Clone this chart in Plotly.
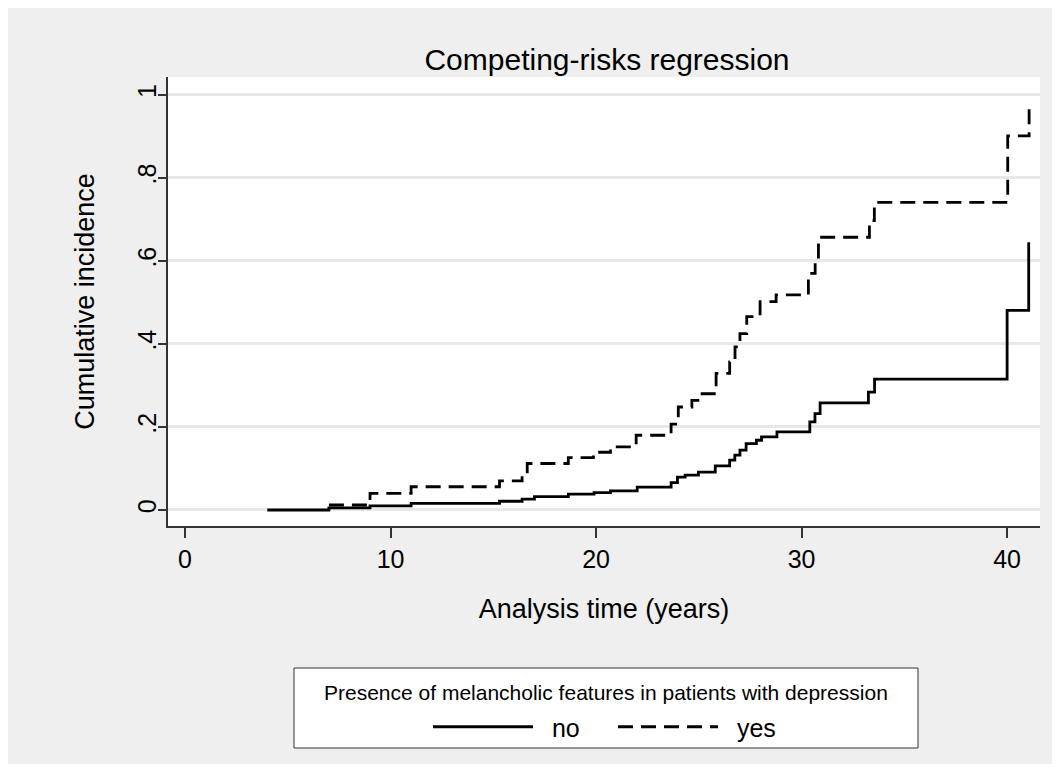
import plotly.graph_objects as go

# ---- data ----
no_time = [4, 7, 9, 11, 15.3, 16.4, 17.0, 18.65, 19.9, 20.7, 22.0, 23.65, 23.96, 24.33,
           24.98, 25.8, 26.5, 26.75, 27.0, 27.3, 27.8, 28.05, 28.8, 30.4, 30.65, 30.9,
           33.25, 33.55, 40.0, 41.05]
no_ci = [0.0, 0.005, 0.010, 0.016, 0.021, 0.026, 0.032, 0.038, 0.042, 0.046, 0.055, 0.066,
         0.079, 0.084, 0.091, 0.106, 0.120, 0.132, 0.144, 0.160, 0.168, 0.176, 0.188, 0.212,
         0.232, 0.258, 0.284, 0.315, 0.481, 0.645]

yes_time = [7, 9, 11, 15.3, 16.4, 16.65, 18.65, 19.87, 20.7, 21.95, 23.65, 24.0, 24.66,
            25.06, 25.84, 26.5, 26.76, 27.0, 27.33, 27.98, 28.76, 30.33, 30.66, 30.82,
            33.3, 33.54, 40.03, 41.07]
yes_ci = [0.012, 0.040, 0.056, 0.070, 0.088, 0.112, 0.126, 0.139, 0.152, 0.180, 0.207,
          0.248, 0.264, 0.280, 0.329, 0.357, 0.393, 0.425, 0.466, 0.502, 0.518, 0.570,
          0.600, 0.657, 0.697, 0.741, 0.901, 0.974]

x_ticks = [0, 10, 20, 30, 40]
y_ticks = [0, 0.2, 0.4, 0.6, 0.8, 1.0]
y_ticklabels = ["0", ".2", ".4", ".6", ".8", "1"]

series_names = ["no", "yes"]
legend_title = "Presence of melancholic features in patients with depression"

FONT = "Liberation Sans, Arial, Helvetica, sans-serif"
NB = "\u00a0"

# figure geometry (px) used to place the legend frame in paper coordinates
W, H = 1044, 756
ML, MR, MT, MB = 160, 12, 69, 238
PW, PH = W - ML - MR, H - MT - MB


def px_x(page_x):
    return (page_x - 8 - ML) / PW


def px_y(page_y):
    return (H - MB - (page_y - 8)) / PH


fig = go.Figure()
fig.add_trace(go.Scatter(x=no_time, y=no_ci, mode="lines", name=NB * 2 + series_names[0],
                         line=dict(shape="hv", color="black", width=2.8)))
fig.add_trace(go.Scatter(x=yes_time, y=yes_ci, mode="lines", name=NB * 2 + series_names[1],
                         line=dict(shape="hv", color="black", width=2.8, dash="15px,8px")))

# legend frame and legend title
fig.add_shape(type="rect", xref="paper", yref="paper",
              x0=px_x(294), x1=px_x(918), y0=px_y(748), y1=px_y(668),
              fillcolor="white", line=dict(color="#333333", width=1), layer="below")
fig.add_annotation(xref="paper", yref="paper", x=px_x(606), y=px_y(692),
                   text=legend_title, showarrow=False, xanchor="center", yanchor="middle",
                   font=dict(size=21, color="black"))

fig.update_layout(
    width=W, height=H,
    margin=dict(l=ML, r=MR, t=MT, b=MB),
    paper_bgcolor="#efefef",
    plot_bgcolor="white",
    font=dict(family=FONT, color="black"),
    title=dict(text="Competing-risks regression", x=(160 + 439) / W, xanchor="center",
               y=1 - 51 / H, yanchor="middle", font=dict(size=30, color="black")),
    xaxis=dict(range=[-0.83, 41.6], tickvals=x_ticks, showgrid=False, zeroline=False,
               showline=True, linecolor="#333333", linewidth=1.5,
               ticks="outside", ticklen=10, tickwidth=1.5, tickcolor="#333333",
               tickfont=dict(size=25),
               title=dict(text="Analysis time (years)", font=dict(size=27), standoff=27)),
    yaxis=dict(range=[-0.0386, 1.043], tickvals=y_ticks, ticktext=y_ticklabels,
               tickangle=-90, showgrid=True, gridcolor="#e8e8e8", gridwidth=2.5,
               zeroline=False, showline=True, linecolor="#333333", linewidth=1.5,
               ticks="outside", ticklen=8, tickwidth=1.5, tickcolor="#333333",
               tickfont=dict(size=25), ticklabelstandoff=-8,
               title=dict(text="Cumulative incidence", font=dict(size=27), standoff=31)),
    legend=dict(orientation="h", x=px_x(428), xanchor="left", y=px_y(727), yanchor="middle",
                bgcolor="rgba(0,0,0,0)", borderwidth=0,
                font=dict(size=25), itemwidth=100, entrywidth=70),
)

fig.write_html("out.html")
